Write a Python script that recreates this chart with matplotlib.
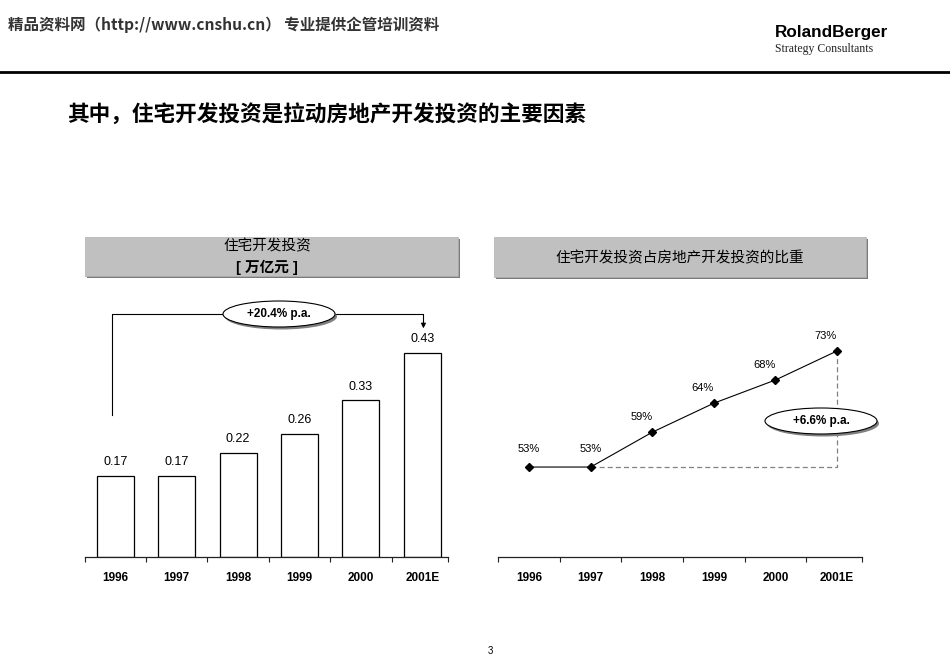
import matplotlib
matplotlib.use("Agg")
import matplotlib.pyplot as plt
from matplotlib.patches import Rectangle, Ellipse

# data
years = ["1996", "1997", "1998", "1999", "2000", "2001E"]
invest = [0.17, 0.17, 0.22, 0.26, 0.33, 0.43]   # 万亿元
share = [53, 53, 59, 64, 68, 73]                # %
cagr_invest = "+20.4% p.a."
cagr_share = "+6.6% p.a."

plt.rcParams['font.family'] = ['Liberation Sans', 'Noto Sans CJK SC', 'DejaVu Sans']

W, H = 950, 658
fig = plt.figure(figsize=(9.5, 6.58), dpi=100)


def box(x0, y0, x1, y1):
    return [x0 / W, 1 - y1 / H, (x1 - x0) / W, (y1 - y0) / H]


ax1 = fig.add_axes(box(84.7, 290, 448, 557))
ax2 = fig.add_axes(box(498.3, 290, 862.3, 557))
page = fig.add_axes([0, 0, 1, 1], zorder=5)
page.set_xlim(0, W)
page.set_ylim(H, 0)
page.axis('off')
page.patch.set_alpha(0)

x = list(range(len(years)))


def style_axis(ax, right):
    for s in ['left', 'top', 'right']:
        ax.spines[s].set_visible(False)
    ax.spines['bottom'].set_linewidth(0.9)
    ax.spines['bottom'].set_color('#222222')
    ax.set_yticks([])
    ax.set_xlim(-0.5, right)
    ax.set_xticks(x)
    ax.set_xticklabels(years, fontsize=8.5, fontweight='bold')
    ax.tick_params(axis='x', which='major', length=0, pad=10.5)
    ax.set_xticks([i - 0.5 for i in x] + [right], minor=True)
    ax.tick_params(axis='x', which='minor', length=3.5, width=0.8, direction='out', color='#222222')
    ax.patch.set_alpha(0)


# ---- left: bars
ax1.bar(x, invest, width=0.6, color='white', edgecolor='black', linewidth=0.9)
for i, v in enumerate(invest):
    ax1.annotate(f"{v:.2f}", (i, v), xytext=(0, 10), textcoords='offset points',
                 ha='center', va='center', fontsize=9)
ax1.set_ylim(0, 0.5628)
style_axis(ax1, 5.42)

# bracket with arrow
ax1.plot([-0.05, -0.05, 5.02, 5.02], [0.30, 0.512, 0.512, 0.49], color='black', lw=0.8, clip_on=False)
ax1.annotate('', xy=(5.02, 0.482), xytext=(5.02, 0.495),
             arrowprops=dict(arrowstyle='-|>', color='black', lw=0.8, mutation_scale=7,
                             shrinkA=0, shrinkB=0), annotation_clip=False)

# ---- right: line
ax2.plot([1, 5, 5], [share[1], share[1], share[5]], color='#808080', lw=0.9,
         ls=(0, (4, 2.5)), zorder=2)
ax2.plot(x, share, color='black', lw=0.8, marker='D', markersize=4.5, zorder=3)
for i, v in enumerate(share):
    off = (0, 13) if i <= 1 else (-8, 11)
    ax2.annotate(f"{v}%", (i, v), xytext=off, textcoords='offset points',
                 ha='center', va='center', fontsize=8)
ax2.set_ylim(37.5, 83.5)
style_axis(ax2, 5.41)

# ---- page decorations
page.text(8, 25, "精品资料网（http://www.cnshu.cn） 专业提供企管培训资料",
          fontsize=11.2, fontweight='bold', color='#333333', ha='left', va='center',
          family=['Noto Sans CJK SC', 'DejaVu Sans'])
page.text(775, 33, "RolandBerger", fontsize=12.3, fontweight='bold', ha='left', va='center',
          family=['Liberation Sans Narrow', 'Liberation Sans'])
page.text(775, 49, "Strategy Consultants", fontsize=8.5, ha='left', va='center',
          family=['Liberation Serif'], color='#222222')
page.plot([0, W], [72, 72], color='black', lw=2)

page.text(67, 115, "其中，住宅开发投资是拉动房地产开发投资的主要因素", fontsize=15.6, fontweight='bold',
          ha='left', va='center')


def header(x0, y0, x1, y1):
    page.add_patch(Rectangle((x0 + 2, y0 + 2), x1 - x0, y1 - y0, facecolor='#7a7a7a', edgecolor='none'))
    page.add_patch(Rectangle((x0, y0), x1 - x0, y1 - y0, facecolor='#c0c0c0', edgecolor='#b0b0b0', lw=0.5))


header(85, 237, 458, 276)
page.text(267, 246, "住宅开发投资", fontsize=10.5, ha='center', va='center')
page.text(267, 267, "[ 万亿元 ]", fontsize=10.5, ha='center', va='center', fontweight='bold')
header(494, 237, 866, 277)
page.text(680, 258, "住宅开发投资占房地产开发投资的比重", fontsize=10.5, ha='center', va='center')


def bubble(cx, cy, text):
    page.add_patch(Ellipse((cx + 2, cy + 2.5), 112, 26, facecolor='#808080', edgecolor='none'))
    page.add_patch(Ellipse((cx, cy), 112, 26, facecolor='white', edgecolor='black', lw=0.8))
    page.text(cx, cy, text, fontsize=8.5, fontweight='bold', ha='center', va='center')


bubble(279, 314, cagr_invest)
bubble(821, 421, cagr_share)

page.text(490, 651, "3", fontsize=7, ha='center', va='center')

fig.savefig("out.png", dpi=100)
